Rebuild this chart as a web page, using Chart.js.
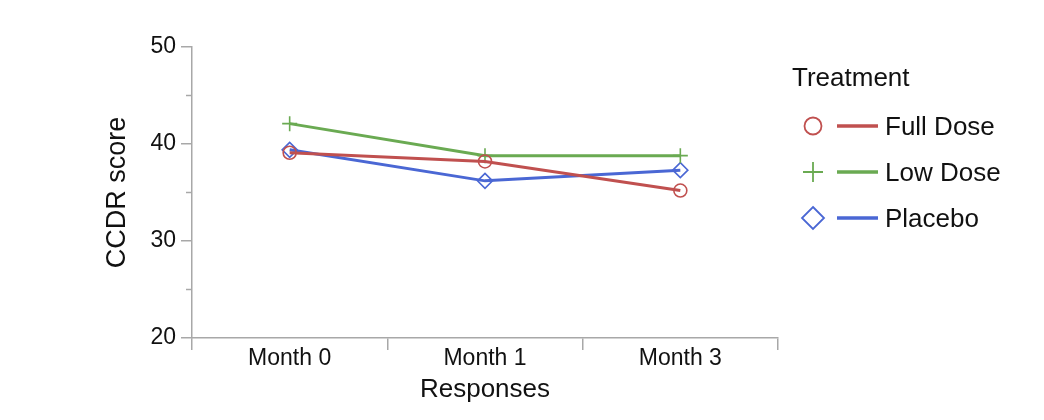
<!DOCTYPE html>
<html>
<head>
<meta charset="utf-8">
<script src="https://cdn.jsdelivr.net/npm/chart.js@4.4.0/dist/chart.umd.min.js"></script>
<style>
  body { margin: 0; background: #fff; font-family: "Liberation Sans", Arial, sans-serif; }
  #wrap { position: relative; width: 1044px; height: 420px; }
  #legend { position: absolute; left: 792px; top: 0; color: #111; }
  #legend .title { position: absolute; top: 60px; left: 0; font-size: 26px; line-height: 34px; white-space: nowrap; }
  #legend .item { position: absolute; left: 0; display: flex; align-items: center; height: 46px; font-size: 26px; white-space: nowrap; }
  #legend svg { margin-left: 11px; margin-right: 6px; }
</style>
</head>
<body>
<div id="wrap">
  <canvas id="myChart" width="1044" height="420"></canvas>
  <div id="legend"></div>
</div>
<script>
var canvas = document.getElementById('myChart');
var ctx = canvas.getContext('2d');

// data
const months = ['Month 0', 'Month 1', 'Month 3'];
const fullDose = [39.1, 38.2, 35.2];
const lowDose = [42.1, 38.8, 38.8];
const placebo = [39.4, 36.2, 37.3];
const yTicks = [20, 30, 40, 50];

const red = '#c0504f';
const green = '#6aaa52';
const blue = '#4a67d4';
const axisGray = '#a8a8a8';

function series(label, data, color, style) {
    return {
        label: label,
        data: data,
        borderColor: color,
        backgroundColor: 'rgba(255,255,255,0)',
        borderWidth: 3,
        pointStyle: style,
        pointRadius: style == 'circle' ? 6.5 : 7.5,
        pointBorderWidth: 1.6,
        pointBorderColor: color,
        pointBackgroundColor: 'rgba(255,255,255,0)',
        tension: 0
    };
}

// short minor ticks on the y axis (25, 35, 45)
const minorTicks = {
    id: 'minorTicks',
    afterDraw(chart) {
        const y = chart.scales.y;
        const c = chart.ctx;
        c.save();
        c.strokeStyle = axisGray;
        c.lineWidth = 1.5;
        y.ticks.forEach(t => {
            if (t.value % 10 != 0) {
                const py = y.getPixelForValue(t.value);
                c.beginPath();
                c.moveTo(y.right - 6, py);
                c.lineTo(y.right, py);
                c.stroke();
            }
        });
        c.restore();
    }
};

const chart = new Chart(ctx, {
    type: 'line',
    data: {
        labels: months,
        datasets: [
            series('Full Dose', fullDose, red, 'circle'),
            series('Low Dose', lowDose, green, 'cross'),
            series('Placebo', placebo, blue, 'rectRot')
        ]
    },
    options: {
        responsive: false,
        animation: false,
        layout: { padding: { left: 97, right: 266, top: 47, bottom: 0 } },
        plugins: { legend: { display: false }, tooltip: { enabled: false } },
        scales: {
            x: {
                type: 'category',
                offset: true,
                afterFit: s => { s.height = 82; },
                grid: { offset: true, drawOnChartArea: false, tickLength: 12, color: axisGray, lineWidth: 1.5 },
                border: { color: axisGray, width: 1.5 },
                ticks: { color: '#111', font: { family: 'Liberation Sans', size: 23 }, padding: -5 },
                title: { display: true, text: 'Responses', color: '#111', font: { family: 'Liberation Sans', size: 26 }, padding: { top: 0, bottom: 15 } }
            },
            y: {
                min: 20,
                max: 50,
                afterFit: s => { s.width = 95; },
                grid: { drawOnChartArea: false, tickLength: 11, lineWidth: 1.5,
                    tickColor: c => yTicks.includes(c.tick.value) ? axisGray : 'rgba(0,0,0,0)' },
                border: { color: axisGray, width: 1.5 },
                ticks: { stepSize: 5, color: '#111', padding: 5, font: { family: 'Liberation Sans', size: 23 },
                    callback: v => yTicks.includes(v) ? v : '' },
                title: { display: true, text: 'CCDR score', color: '#111', font: { family: 'Liberation Sans', size: 27 }, padding: 4 }
            }
        }
    },
    plugins: [minorTicks]
});

// legend: marker + line + label, like the original
const marks = {
    circle: c => '<circle cx="10" cy="11" r="8.5" fill="none" stroke="' + c + '" stroke-width="1.8"/>',
    cross: c => '<path d="M10 1V21M0 11H20" stroke="' + c + '" stroke-width="1.8"/>',
    rectRot: c => '<path d="M10 0L21 11L10 22L-1 11Z" fill="none" stroke="' + c + '" stroke-width="1.8"/>'
};
var html = '<div class="title">Treatment</div>';
chart.data.datasets.forEach((ds, i) => {
    html += '<div class="item" style="top:' + (103 + i * 46) + 'px"><svg width="76" height="22" overflow="visible">' +
        marks[ds.pointStyle](ds.borderColor) +
        '<line x1="34" y1="11" x2="75" y2="11" stroke="' + ds.borderColor + '" stroke-width="3.5"/></svg>' +
        '<span>' + ds.label + '</span></div>';
});
document.getElementById('legend').innerHTML = html;
</script>
</body>
</html>
